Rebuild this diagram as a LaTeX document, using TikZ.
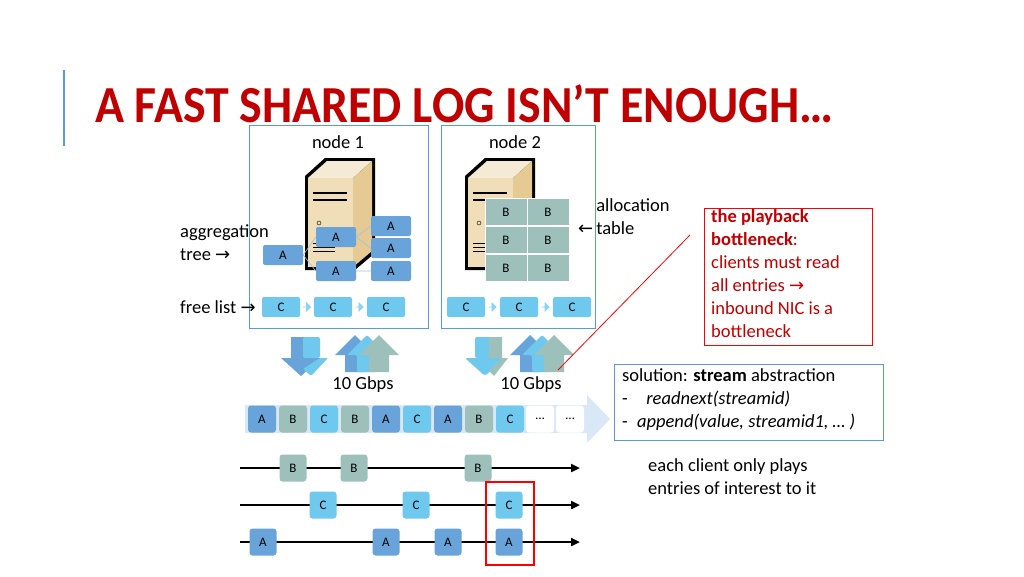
\documentclass[tikz,border=0pt]{standalone}
\usepackage{fontspec}
\setmainfont{Carlito}
\newfontfamily\symf{DejaVu Sans}
\usetikzlibrary{arrows.meta,shapes.arrows,calc}
\definecolor{ca}{HTML}{68A4DA}
\definecolor{cb}{HTML}{9DC1BA}
\definecolor{cc}{HTML}{6FC8EE}
\definecolor{frame}{HTML}{5B9BD5}
\definecolor{ttl}{HTML}{C00000}
\newcommand{\ra}{{\symf\fontsize{18}{18}\selectfont →}}
\newcommand{\la}{{\symf\fontsize{18}{18}\selectfont ←}}
\tikzset{
 cell/.style={rounded corners=2pt,minimum width=#1,minimum height=20pt,inner sep=0pt,font=\fontsize{13}{13}\selectfont},
 aa/.style={cell=40pt,fill=ca},
 cc/.style={cell=38pt,fill=cc},
 bb/.style={draw=white,line width=1pt,minimum width=42pt,minimum height=27pt,fill=cb,inner sep=0pt,font=\fontsize{13}{13}\selectfont},
 lc/.style={rounded corners=3pt,minimum width=28pt,minimum height=27pt,inner sep=0pt,font=\fontsize{13}{13}\selectfont},
 tc/.style={rounded corners=3pt,minimum width=27pt,minimum height=27pt,inner sep=0pt,font=\fontsize{13}{13}\selectfont},
 lbl/.style={font=\fontsize{18.5}{23}\selectfont,align=left,anchor=west,inner sep=0pt},
 big/.style={font=\fontsize{18.5}{23}\selectfont},
 tl/.style={line width=2.2pt,-{Triangle[length=9pt,width=8pt]}},
 nodebox/.style={draw=frame,line width=1pt},
 tree/.style={draw=frame!60,line width=0.6pt},
 sm/.style={fill=cc!80,single arrow,minimum height=8pt,minimum width=10pt,single arrow head extend=2pt,inner sep=0pt}
}
\newcommand{\server}[2]{%
 \begin{scope}[shift={(#1,#2)}]
 \fill[black] (0,18) -- (20,0) -- (70,0) -- (70,95) -- (50,112) -- (0,112) -- cycle;
 \fill[yellow!15!brown!20] (3,20) -- (22,3) -- (67,3) -- (48,20) -- cycle;
 \fill[yellow!25!brown!35] (3,20) -- (48,20) -- (48,109) -- (3,109) -- cycle;
 \fill[yellow!20!brown!55] (48,20) -- (67,3) -- (67,93) -- (48,109) -- cycle;
 \draw[black,line width=2pt] (8,35) -- (42,35) (8,42) -- (42,42);
 \draw[black] (14,65) circle (2pt);
 \draw[black] (8,85) -- (30,85) (8,89) -- (30,89) (8,93) -- (30,93);
 \end{scope}}
\begin{document}
\begin{tikzpicture}[x=1pt,y=-1pt]
\useasboundingbox[fill=white] (0,0) rectangle (1024,576);
\draw[frame,line width=1.5pt] (64,70) -- (64,146);
\node[anchor=base west,inner sep=0pt,text=ttl,xscale=0.92,font=\fontsize{52}{52}\bfseries\selectfont] (title) at (95,122) {A FAST SHARED LOG ISN’T ENOUGH…};
% node boxes
\draw[nodebox] (249,125) rectangle (428,328);
\draw[nodebox] (441,125) rectangle (595,328);
\node[big] (n1) at (338,142) {node 1};
\node[big] (n2) at (515,142) {node 2};
\server{305}{158}
\server{465}{158}
% aggregation tree
\node[aa] (a0) at (283,255) {A};
\node[aa] (a1) at (336,237) {A};
\node[aa] (a2) at (336,271) {A};
\node[aa] (a3) at (391,226) {A};
\node[aa] (a4) at (391,248) {A};
\node[aa] (a5) at (391,271) {A};
\draw[tree] (a0.east) -- (a1.west) (a0.east) -- (a2.west) (a1.east) -- (a4.west) (a2.east) -- (a5.west) (a1.east) -- (a3.west);
% allocation table
\foreach \r/\y in {1/212,2/240,3/268}{
 \node[bb] (b\r l) at (506,\y) {B};
 \node[bb] (b\r r) at (548,\y) {B};}
% free lists
\foreach \i/\x in {1/281,2/333,3/386}{\node[cc] (c\i) at (\x,307) {C};}
\foreach \i/\x in {1/466,2/519,3/572}{\node[cc] (d\i) at (\x,307) {C};}
\node[sm] (s1) at ($(c1)!0.5!(c2)$) {};
\node[sm] (s2) at ($(c2)!0.5!(c3)$) {};
\node[sm] (s3) at ($(d1)!0.5!(d2)$) {};
\node[sm] (s4) at ($(d2)!0.5!(d3)$) {};
% labels
\node[lbl] (agg) at (180,243) {aggregation\\tree \ra};
\node[lbl] (fl) at (180,307) {free list \ra};
\node[lbl] (al) at (578,217) {\phantom{\la}\,allocation\\\la\,table};
% up/down arrows
\fill[ca] (291,337) rectangle (311,358) -- (321,358) -- (301,376) -- (281,358) -- (291,358);
\fill[cc] (303,337) rectangle (320,358) -- (328,358) -- (311,376) -- (303,369) -- cycle;
\foreach \dx/\c in {0/ca,12/cc,24/cb}{
 \fill[\c] (345+\dx,372) -- (345+\dx,355) -- (335+\dx,355) -- (355+\dx,335) -- (375+\dx,355) -- (365+\dx,355) -- (365+\dx,372) -- cycle;}
\fill[cc] (475,337) rectangle (495,358) -- (505,358) -- (485,376) -- (465,358) -- (475,358);
\fill[cb] (489,337) rectangle (502,358) -- (508,358) -- (494,376) -- (489,371) -- cycle;
\foreach \dx/\c in {0/ca,12/cc,24/cb}{
 \fill[\c] (520+\dx,372) -- (520+\dx,355) -- (510+\dx,355) -- (530+\dx,335) -- (550+\dx,355) -- (540+\dx,355) -- (540+\dx,372) -- cycle;}
\node[big] (g1) at (363,385) {10 Gbps};
\node[big] (g2) at (531,385) {10 Gbps};
% log strip
\fill[ca!25] (245,405) -- (587,405) -- (587,395) -- (610,419) -- (587,443) -- (587,433) -- (245,433) -- cycle;
\foreach \i/\x/\t/\c in {1/262/A/ca,2/293/B/cb,3/324/C/cc,4/355/B/cb,5/386/A/ca,6/417/C/cc,7/448/A/ca,8/479/B/cb,9/510/C/cc}{
 \node[lc,fill=\c] (l\i) at (\x,419) {\t};}
\node[lc,fill=white] (l10) at (540,419) {…};
\node[lc,fill=white] (l11) at (570,419) {…};
% timelines
\coordinate (tb0) at (240,468); \coordinate (tb1) at (580,468);
\coordinate (tc0) at (240,505); \coordinate (tc1) at (580,505);
\coordinate (ta0) at (240,542); \coordinate (ta1) at (580,542);
\draw[tl] (tb0) -- (tb1);
\draw[tl] (tc0) -- (tc1);
\draw[tl] (ta0) -- (ta1);
\foreach \i/\x in {1/293,2/354,3/478}{\node[tc,fill=cb] (tb\i) at (\x,468) {B};}
\foreach \i/\x in {1/323,2/416,3/509}{\node[tc,fill=cc] (tcc\i) at (\x,505) {C};}
\foreach \i/\x in {1/263,2/386,3/448,4/509}{\node[tc,fill=ca] (ta\i) at (\x,542) {A};}
\draw[red,line width=2pt] (486,482) rectangle (534,565);
% bottleneck box
\node[draw=red,line width=0.8pt,minimum width=168pt,minimum height=137pt,anchor=north west,inner sep=0pt] (bn) at (704,208) {};
\node[lbl,text=ttl,anchor=north west] (bnt) at (711,209) {\textbf{the playback}\\\textbf{bottleneck}:\\clients must read\\all entries \ra\\inbound NIC is a\\bottleneck};
\coordinate (rl0) at (558,370); \coordinate (rl1) at (690,235);
\draw[red,line width=0.8pt] (rl0) -- (rl1);
% solution box
\node[draw=frame,line width=1pt,minimum width=269pt,minimum height=76pt,anchor=north west,inner sep=0pt] (sol) at (614,364) {};
\node[lbl,anchor=north west] (solt) at (622,368) {solution: \textbf{stream} abstraction\\-\quad\textit{readnext(streamid)}\\-\enspace\textit{append(value, streamid1, … )}};
\node[lbl,anchor=north west] (ec) at (648,458) {each client only plays\\entries of interest to it};
\end{tikzpicture}
\end{document}
